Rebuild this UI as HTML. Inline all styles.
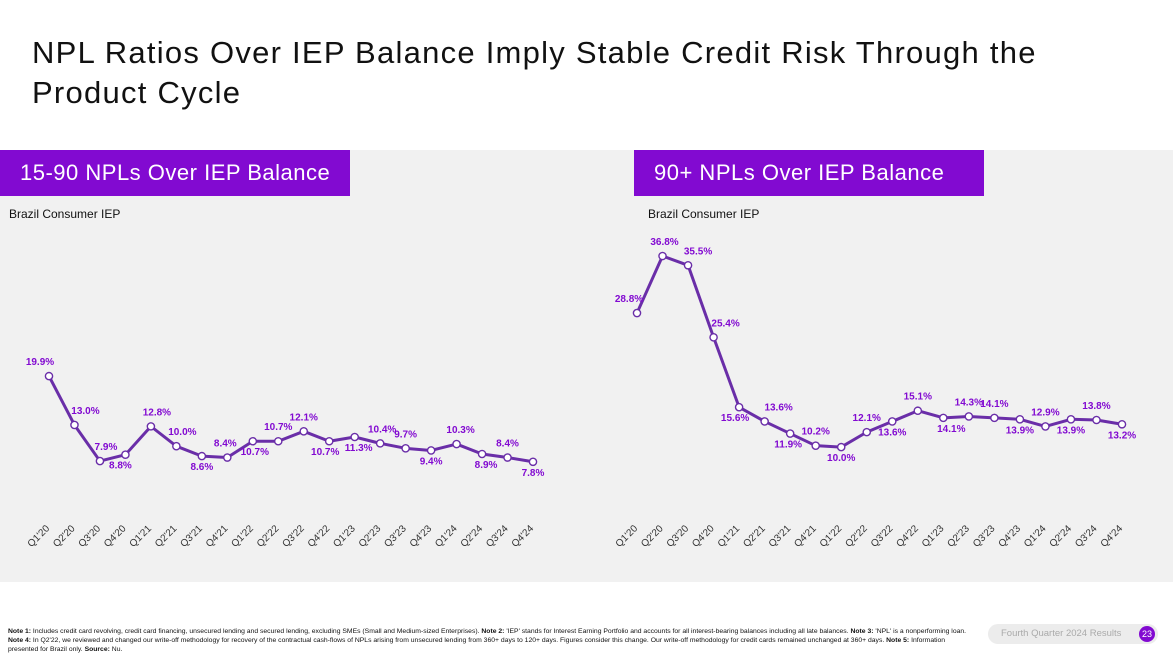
<!DOCTYPE html>
<html><head><meta charset="utf-8"><style>
body{margin:0;width:1173px;height:659px;background:#fff;font-family:"Liberation Sans",sans-serif;position:relative;overflow:hidden}
#title{position:absolute;left:32px;top:33px;font-size:31px;letter-spacing:1.25px;line-height:40px;color:#111;margin:0;font-weight:normal}
#panel{position:absolute;left:0;top:150px;width:1173px;height:432px;background:#f1f1f1}
.hdr{position:absolute;top:150px;height:46px;background:#820ad1;color:#fff;font-size:22px;letter-spacing:0.5px;line-height:46px;padding-left:20px;box-sizing:border-box}
.sub{position:absolute;top:207px;font-size:12px;color:#111}
#notes{position:absolute;left:8px;top:627px;width:965px;font-size:6.8px;line-height:9px;color:#111}
#badge{position:absolute;left:988px;top:624px;width:170px;height:20px;border-radius:10px;background:#ececec;color:#aaa;font-size:9.5px;line-height:20px;padding-left:13px;box-sizing:border-box}
#pnum{position:absolute;left:1139px;top:626px;width:16px;height:16px;border-radius:8px;background:#820ad1;color:#fff;font-size:9px;line-height:16px;text-align:center}
svg{position:absolute;left:0;top:0}
</style></head><body>
<h1 id="title">NPL Ratios Over IEP Balance Imply Stable Credit Risk Through the<br>Product Cycle</h1>
<div id="panel"></div>
<div class="hdr" style="left:0;width:350px">15-90 NPLs Over IEP Balance</div>
<div class="hdr" style="left:634px;width:350px">90+ NPLs Over IEP Balance</div>
<div class="sub" style="left:9px">Brazil Consumer IEP</div>
<div class="sub" style="left:648px">Brazil Consumer IEP</div>
<svg id="chart" width="1173" height="659"></svg>
<div id="notes"><b>Note 1:</b> Includes credit card revolving, credit card financing, unsecured lending and secured lending, excluding SMEs (Small and Medium-sized Enterprises). <b>Note 2:</b> 'IEP' stands for Interest Earning Portfolio and accounts for all interest-bearing balances including all late balances. <b>Note 3:</b> 'NPL' is a nonperforming loan. <b>Note 4:</b> In Q2'22, we reviewed and changed our write-off methodology for recovery of the contractual cash-flows of NPLs arising from unsecured lending from 360+ days to 120+ days. Figures consider this change. Our write-off methodology for credit cards remained unchanged at 360+ days. <b>Note 5:</b> Information presented for Brazil only. <b>Source:</b> Nu.</div>
<div id="badge">Fourth Quarter 2024 Results</div>
<div id="pnum">23</div>
<script>
const categories=["Q1'20","Q2'20","Q3'20","Q4'20","Q1'21","Q2'21","Q3'21","Q4'21","Q1'22","Q2'22","Q3'22","Q4'22","Q1'23","Q2'23","Q3'23","Q4'23","Q1'24","Q2'24","Q3'24","Q4'24"];
const npl1590=[19.9,13.0,7.9,8.8,12.8,10.0,8.6,8.4,10.7,10.7,12.1,10.7,11.3,10.4,9.7,9.4,10.3,8.9,8.4,7.8];
const npl90=[28.8,36.8,35.5,25.4,15.6,13.6,11.9,10.2,10.0,12.1,13.6,15.1,14.1,14.3,14.1,13.9,12.9,13.9,13.8,13.2];
const place1590=["a","a","a","b","a","a","b","a","b","a","a","b","b","a","a","b","a","b","a","b"];
const place90=["a","a","a","a","b","a","b","a","b","a","b","a","b","a","a","b","a","b","a","b"];
const shift1590=[-9,11,6,-5,6,6,0,-2,2,0,0,-4,4,2,0,0,4,4,0,0];
const shift90=[-8,2,10,12,-4,14,-2,0,0,0,0,0,8,0,0,0,0,0,0,0];
const NS="http://www.w3.org/2000/svg";
const svg=document.getElementById('chart');
function mk(t,a){const e=document.createElementNS(NS,t);for(const k in a)e.setAttribute(k,a[k]);svg.appendChild(e);return e;}
function draw(vals,place,shift,x0,x1,yb,k,name){
  const n=categories.length;
  const X=i=>x0+(x1-x0)*i/(n-1);
  const Y=v=>yb-v*k;
  const pl=mk('polyline',{points:vals.map((v,i)=>X(i)+','+Y(v)).join(' '),fill:'none',stroke:'#6a2ea8','stroke-width':3,'stroke-linejoin':'round'});
  
  
  vals.forEach((v,i)=>{
    const c=mk('circle',{cx:X(i),cy:Y(v),r:3.6,fill:'#fff',stroke:'#6a2ea8','stroke-width':1.4});
    
    
    const above=place[i]==='a';
    const t=mk('text',{x:X(i)+shift[i],y:Y(v)+(above?-11:14),'text-anchor':'middle','font-size':10,'font-weight':'bold',fill:'#820ad1','font-family':'Liberation Sans, sans-serif'});
    t.textContent=v.toFixed(1)+'%';
    
    
    const tl=mk('text',{x:X(i)+1,y:529,'text-anchor':'end','font-size':10,fill:'#333','font-family':'Liberation Sans, sans-serif',transform:'rotate(-45 '+(X(i)+1)+' 529)'});
    tl.textContent=categories[i];
    
    
  });
}
draw(npl1590,place1590,shift1590,49,533,517,7.08,'npl-15-90');
draw(npl90,place90,shift90,637,1122,518.4,7.13,'npl-90');
</script>
</body></html>
